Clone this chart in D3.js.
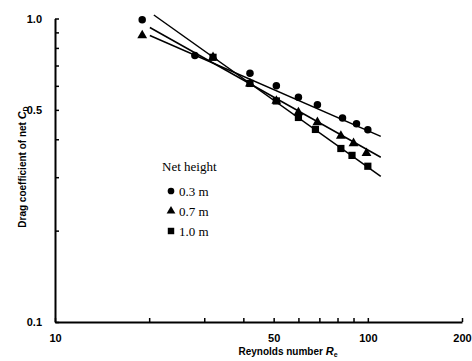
<html lang="en">
<head>
    <meta charset="UTF-8">
    <title>Drag coefficient of net</title>
    <style>
        body { margin: 0; background: #fff; }
        svg { display: block; }
    </style>
</head>
<body>
<script src="https://d3js.org/d3.v7.min.js"></script>

<script>
// values
const reCircle   = [19, 28, 42, 51, 60, 69, 83, 92, 100]
const cdCircle   = [0.99, 0.755, 0.66, 0.60, 0.55, 0.52, 0.47, 0.45, 0.43]
const reTriangle = [19, 32, 42, 51, 60, 69, 82, 90, 99]
const cdTriangle = [0.88, 0.745, 0.61, 0.535, 0.49, 0.455, 0.41, 0.388, 0.36]
const reSquare   = [32, 42, 51, 60, 68, 82, 89, 100]
const cdSquare   = [0.745, 0.611, 0.535, 0.472, 0.431, 0.373, 0.354, 0.326]

// fitted lines, [Re, Cd] at both ends
const fitCircle   = [[20.1, 0.879], [110, 0.409]]
const fitTriangle = [[20.1, 0.934], [110, 0.349]]
const fitSquare   = [[20.7, 1.027], [110, 0.302]]

const legendTitle = 'Net height'
const legendNames = ['0.3 m', '0.7 m', '1.0 m']

const xTicks = [10, 20, 30, 40, 50, 60, 70, 80, 90, 100, 200]
const xLabels = [10, 50, 100, 200]
const yTicks = [0.1, 0.2, 0.3, 0.4, 0.5, 0.6, 0.7, 0.8, 0.9, 1.0]
const yLabels = [0.1, 0.5, 1.0]

const m = {
    width: 472,
    height: 361,
    left: 55,
    right: 462,
    top: 18.5,
    bottom: 322
}

const svg = d3.select('body').append('svg')
    .attr('width', m.width)
    .attr('height', m.height)

const x = d3.scaleLog().domain([10, 200]).range([m.left, m.right])
const y = d3.scaleLog().domain([0.1, 1]).range([m.bottom, m.top])

const sans = '"Liberation Sans", Arial, sans-serif'
const serif = '"Liberation Serif", "Times New Roman", serif'

// axes, ticks pointing inwards
const xAxis = svg.append('g')
    .attr('transform', `translate(0,${m.bottom})`)
    .call(d3.axisBottom(x)
        .tickValues(xTicks)
        .tickSizeInner(-4)
        .tickSizeOuter(0)
        .tickPadding(12)
        .tickFormat(d => xLabels.includes(d) ? d : ''))

const yAxis = svg.append('g')
    .attr('transform', `translate(${m.left},0)`)
    .call(d3.axisLeft(y)
        .tickValues(yTicks)
        .tickSizeInner(-4)
        .tickSizeOuter(0)
        .tickPadding(13)
        .tickFormat(d => yLabels.includes(d) ? d3.format('.1f')(d) : ''))

svg.selectAll('.domain').attr('stroke', '#000').attr('stroke-width', 2)
svg.selectAll('.tick line').attr('stroke', '#000').attr('stroke-width', 1.5)
svg.selectAll('.tick text')
    .attr('fill', '#000')
    .style('font-family', sans)
    .style('font-weight', 'bold')
    .style('font-size', '11px')
yAxis.selectAll('.tick text').attr('dy', '0.35em')

// axis titles
const xTitle = svg.append('text')
    .attr('x', 288)
    .attr('y', 355)
    .attr('text-anchor', 'middle')
    .style('font-family', sans)
    .style('font-weight', 'bold')
    .style('font-size', '10px')
xTitle.append('tspan').text('Reynolds number ')
xTitle.append('tspan').attr('font-style', 'italic').attr('font-size', '11px').text('R')
xTitle.append('tspan').attr('font-size', '7px').attr('dy', 2).text('e')

const yTitle = svg.append('text')
    .attr('transform', 'translate(26,167) rotate(-90)')
    .attr('text-anchor', 'middle')
    .style('font-family', sans)
    .style('font-weight', 'bold')
    .style('font-size', '10px')
yTitle.append('tspan').text('Drag coefficient of net ')
yTitle.append('tspan').attr('font-style', 'italic').attr('font-size', '11px').text('C')
yTitle.append('tspan').attr('font-size', '7px').attr('dy', 2).text('D')

// fitted lines
const line = d3.line()
    .x(d => x(d[0]))
    .y(d => y(d[1]))

const plot = svg.append('g')

plot.selectAll('.fit')
    .data([fitCircle, fitTriangle, fitSquare])
    .enter()
    .append('path')
        .attr('class', 'fit')
        .attr('d', line)
        .attr('fill', 'none')
        .attr('stroke', '#000')
        .attr('stroke-width', 1.5)

// markers
const series = [
    { re: reCircle, cd: cdCircle, shape: d3.symbolCircle, size: 44 },
    { re: reTriangle, cd: cdTriangle, shape: d3.symbolTriangle, size: 42 },
    { re: reSquare, cd: cdSquare, shape: d3.symbolSquare, size: 52 }
]

series.forEach(s => {
    plot.selectAll(null)
        .data(s.re.map((r, i) => [r, s.cd[i]]))
        .enter()
        .append('path')
            .attr('transform', d => `translate(${x(d[0])},${y(d[1])})`)
            .attr('d', d3.symbol().type(s.shape).size(s.size))
            .attr('fill', '#000')
})

// legend
const legend = svg.append('g')
    .attr('transform', 'translate(162,171)')

legend.append('text')
    .text(legendTitle)
    .style('font-family', serif)
    .style('font-size', '13px')

legendNames.forEach((name, i) => {
    const row = legend.append('g')
        .attr('transform', `translate(9,${20 + i * 20})`)
    row.append('path')
        .attr('d', d3.symbol().type(series[i].shape).size(series[i].size * 0.8))
        .attr('fill', '#000')
    row.append('text')
        .attr('x', 8)
        .attr('dy', '0.35em')
        .text(name)
        .style('font-family', serif)
        .style('font-size', '13px')
})
</script>
</body>
</html>
